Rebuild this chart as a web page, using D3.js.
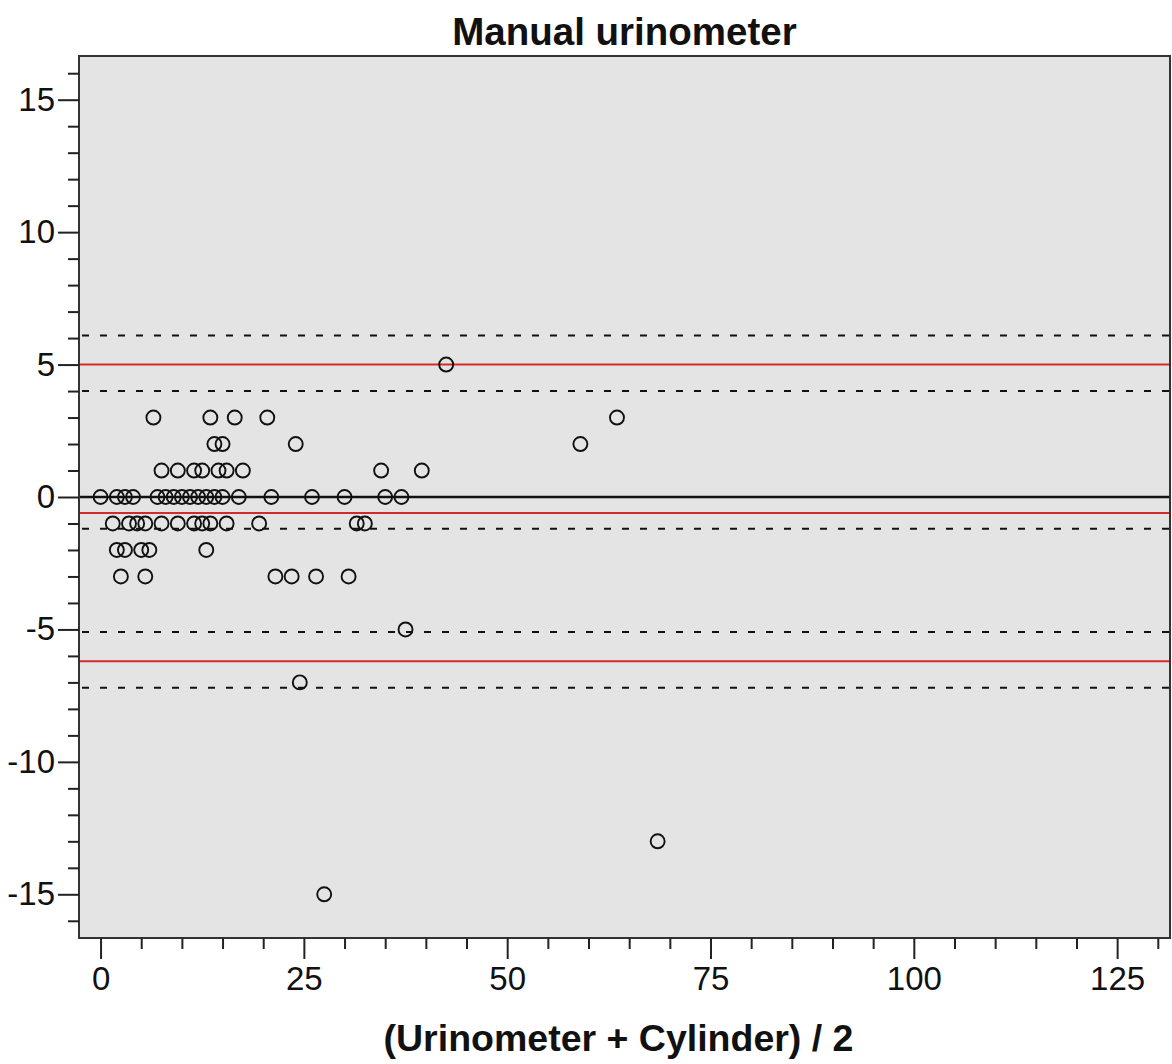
<!DOCTYPE html>
<html lang="en">
<head>
  <meta charset="UTF-8">
  <title>Manual urinometer</title>
  <script src="https://d3js.org/d3.v7.min.js"></script>
  <style>
    body { margin: 0; background: white; }
    text { font-family: "Liberation Sans", Arial, sans-serif; fill: #111; }
  </style>
</head>
<body>
<svg id="chart" width="1172" height="1064"></svg>

<script>
  // Bland-Altman points: mean of the two methods (x) and their difference (y)
  const means = [
    // diff 5
    42.5,
    // diff 3
    6.5, 13.5, 16.5, 20.5, 63.5,
    // diff 2
    14, 15, 24, 59,
    // diff 1
    7.5, 9.5, 11.5, 12.5, 14.5, 15.5, 17.5, 34.5, 39.5,
    // diff 0
    0, 2, 3, 4, 7, 8, 9, 10, 11, 12, 13, 14, 15, 17, 21, 26, 30, 35, 37,
    // diff -1
    1.5, 3.5, 4.5, 5.5, 7.5, 9.5, 11.5, 12.5, 13.5, 15.5, 19.5, 31.5, 32.5,
    // diff -2
    2, 3, 5, 6, 13,
    // diff -3
    2.5, 5.5, 21.5, 23.5, 26.5, 30.5,
    // larger differences
    37.5, 24.5, 27.5, 68.5
  ];
  const diffs = [
    5,
    3, 3, 3, 3, 3,
    2, 2, 2, 2,
    1, 1, 1, 1, 1, 1, 1, 1, 1,
    0, 0, 0, 0, 0, 0, 0, 0, 0, 0, 0, 0, 0, 0, 0, 0, 0, 0, 0,
    -1, -1, -1, -1, -1, -1, -1, -1, -1, -1, -1, -1, -1,
    -2, -2, -2, -2, -2,
    -3, -3, -3, -3, -3, -3,
    -5, -7, -15, -13
  ];

  // mean difference and limits of agreement (red), with their confidence limits (dashed)
  const redLines = [5.0, -0.6, -6.2];
  const dashedLines = [6.1, 4.0, 0.0, -1.2, -5.1, -7.2];
  const zeroLine = 0;

  const xMajor = [0, 25, 50, 75, 100, 125];
  const yMajor = [-15, -10, -5, 0, 5, 10, 15];

  const svg = d3.select("#chart");
  const plotL = 79, plotR = 1170, plotT = 56, plotB = 938;

  const x = d3.scaleLinear().domain([-2.65, 131.5]).range([plotL, plotR]);
  const y = d3.scaleLinear().domain([-16.65, 16.65]).range([plotB, plotT]);

  const xMinor = d3.range(0, 131, 5).filter(v => !xMajor.includes(v));
  const yMinor = d3.range(-16, 17, 1).filter(v => !yMajor.includes(v));

  // plot background
  svg.append("rect")
          .attr("x", plotL).attr("y", plotT)
          .attr("width", plotR - plotL).attr("height", plotB - plotT)
          .attr("fill", "#e4e4e4");

  // dashed confidence lines
  svg.append("g").selectAll("line")
          .data(dashedLines)
          .enter().append("line")
          .attr("x1", plotL).attr("x2", plotR)
          .attr("y1", d => y(d)).attr("y2", d => y(d))
          .attr("stroke", "#111")
          .attr("stroke-width", 2)
          .attr("stroke-dasharray", "7,11")
          .attr("stroke-dashoffset", -3);

  // zero line
  svg.append("line")
          .attr("x1", plotL).attr("x2", plotR)
          .attr("y1", y(zeroLine)).attr("y2", y(zeroLine))
          .attr("stroke", "#111")
          .attr("stroke-width", 2.5);

  // red lines
  svg.append("g").selectAll("line")
          .data(redLines)
          .enter().append("line")
          .attr("x1", plotL).attr("x2", plotR)
          .attr("y1", d => y(d)).attr("y2", d => y(d))
          .attr("stroke", "#d42a2a")
          .attr("stroke-width", 2);

  // points
  svg.append("g").selectAll("circle")
          .data(means.map((m, i) => [m, diffs[i]]))
          .enter().append("circle")
          .attr("cx", d => x(d[0]))
          .attr("cy", d => y(d[1]))
          .attr("r", 7)
          .attr("fill", "none")
          .attr("stroke", "#111")
          .attr("stroke-width", 1.9);

  // plot frame
  svg.append("rect")
          .attr("x", plotL).attr("y", plotT)
          .attr("width", plotR - plotL).attr("height", plotB - plotT)
          .attr("fill", "none")
          .attr("stroke", "#333")
          .attr("stroke-width", 2);

  // y axis
  svg.append("g").attr("transform", `translate(${plotL},0)`)
          .call(d3.axisLeft(y).tickValues(yMajor).tickSize(21).tickPadding(3).tickFormat(d => d));
  svg.append("g").attr("transform", `translate(${plotL},0)`)
          .call(d3.axisLeft(y).tickValues(yMinor).tickSize(11).tickFormat(""));

  // x axis
  svg.append("g").attr("transform", `translate(0,${plotB})`)
          .call(d3.axisBottom(x).tickValues(xMajor).tickSize(21).tickPadding(8).tickFormat(d => d));
  svg.append("g").attr("transform", `translate(0,${plotB})`)
          .call(d3.axisBottom(x).tickValues(xMinor).tickSize(11).tickFormat(""));

  svg.selectAll(".domain").remove();
  svg.selectAll(".tick line").attr("stroke", "#222").attr("stroke-width", 2);
  svg.selectAll(".tick text")
          .attr("font-size", 33)
          .style("font-family", "'Liberation Sans', Arial, sans-serif")
          .attr("fill", "#111");

  // title and axis label
  svg.append("text")
          .attr("x", (plotL + plotR) / 2).attr("y", 45)
          .attr("text-anchor", "middle")
          .attr("font-size", 38.5)
          .attr("font-weight", "bold")
          .text("Manual urinometer");

  svg.append("text")
          .attr("x", (plotL + plotR) / 2 - 6).attr("y", 1051)
          .attr("text-anchor", "middle")
          .attr("font-size", 37.5)
          .attr("font-weight", "bold")
          .text("(Urinometer + Cylinder) / 2");
</script>
</body>
</html>
